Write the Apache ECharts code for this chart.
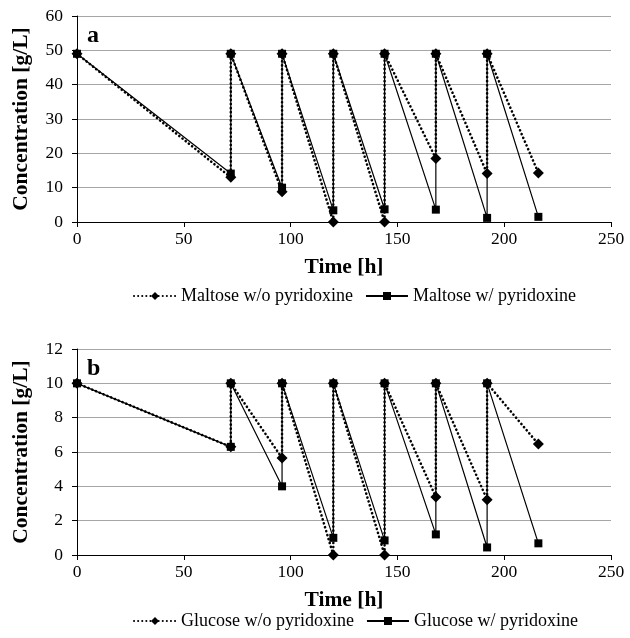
<!DOCTYPE html>
<html><head><meta charset="utf-8">
<script src="https://cdn.jsdelivr.net/npm/echarts@6/dist/echarts.min.js"></script>
<style>html,body{margin:0;padding:0;background:#fff}#c{width:630px;height:638px}</style>
</head><body><div id="c"></div>
<script>
var times = [0, 72, 72, 96, 96, 120, 120, 144, 144, 168, 168, 192, 192, 216];
var maltoseWo = [49, 13, 49, 8.8, 49, 0, 49, 0, 49, 18.5, 49, 14.1, 49, 14.3];
var maltoseW  = [49, 14.1, 49, 10, 49, 3.4, 49, 3.7, 49, 3.6, 49, 1.2, 49, 1.5];
var glucoseWo = [10, 6.3, 10, 5.65, 10, 0, 10, 0, 10, 3.38, 10, 3.22, 10, 6.46];
var glucoseW  = [10, 6.3, 10, 4.0, 10, 1.0, 10, 0.85, 10, 1.2, 10, 0.44, 10, 0.68];
var xTicks = [0, 50, 100, 150, 200, 250];
var yTicksA = [0, 10, 20, 30, 40, 50, 60];
var yTicksB = [0, 2, 4, 6, 8, 10, 12];

function pairs(v){ return times.map(function(t,i){ return [t, v[i]]; }); }

var FONT = "'Liberation Serif','Times New Roman',serif";
var chart = echarts.init(document.getElementById('c'), null, {renderer:'canvas'});

function xAxis(idx){
  return {
    type:'value', gridIndex:idx, min:xTicks[0], max:xTicks[xTicks.length-1], interval:50,
    name:'Time [h]', nameLocation:'middle', nameGap:34,
    nameTextStyle:{fontFamily:FONT, fontWeight:'bold', fontSize:21.5, color:'#000'},
    axisLine:{show:true, onZero:false, lineStyle:{color:'#000', width:1}},
    axisTick:{show:true, length:5, lineStyle:{color:'#000'}},
    axisLabel:{fontFamily:FONT, fontSize:17.5, color:'#000', margin:8},
    splitLine:{show:false}
  };
}
function yAxis(idx, ticks){
  return {
    type:'value', gridIndex:idx, min:ticks[0], max:ticks[ticks.length-1], interval:ticks[1]-ticks[0],
    name:'Concentration [g/L]', nameLocation:'middle', nameGap:45,
    nameTextStyle:{fontFamily:FONT, fontWeight:'bold', fontSize:21.5, color:'#000'},
    axisLine:{show:true, lineStyle:{color:'#000', width:1}},
    axisTick:{show:true, length:5, lineStyle:{color:'#000'}},
    axisLabel:{fontFamily:FONT, fontSize:17.5, color:'#000', margin:14},
    splitLine:{show:true, lineStyle:{color:'#a6a6a6', width:1}}
  };
}
function dottedSeries(name, data, idx){
  return {
    name:name, type:'line', xAxisIndex:idx, yAxisIndex:idx, data:data,
    symbol:'diamond', symbolSize:11, showSymbol:true,
    lineStyle:{color:'#000', width:2.6, type:[0.1, 4], cap:'round'},
    itemStyle:{color:'#000'}, animation:false, z:3
  };
}
function solidSeries(name, data, idx){
  return {
    name:name, type:'line', xAxisIndex:idx, yAxisIndex:idx, data:data,
    symbol:'rect', symbolSize:8, showSymbol:true,
    lineStyle:{color:'#000', width:1.2, type:'solid'},
    itemStyle:{color:'#000'}, animation:false, z:2
  };
}
function legend(names, top){
  return {data:names, top:top, left:128, itemWidth:42, itemHeight:10, itemGap:12,
    textStyle:{fontFamily:FONT, fontSize:18, color:'#000'}};
}

var option = {
  backgroundColor:'#fff',
  animation:false,
  grid:[
    {left:77, right:19, top:16, height:206},
    {left:77, right:19, top:349, height:206}
  ],
  xAxis:[xAxis(0), xAxis(1)],
  yAxis:[yAxis(0, yTicksA), yAxis(1, yTicksB)],
  legend:[
    legend(['Maltose w/o pyridoxine','Maltose w/ pyridoxine'], 282),
    legend(['Glucose w/o pyridoxine','Glucose w/ pyridoxine'], 607)
  ],
  graphic:[
    {type:'text', left:87, top:24, style:{text:'a', font:'bold 24px ' + FONT, fill:'#000'}},
    {type:'text', left:87, top:357, style:{text:'b', font:'bold 24px ' + FONT, fill:'#000'}}
  ],
  series:[
    solidSeries('Maltose w/ pyridoxine', pairs(maltoseW), 0),
    dottedSeries('Maltose w/o pyridoxine', pairs(maltoseWo), 0),
    solidSeries('Glucose w/ pyridoxine', pairs(glucoseW), 1),
    dottedSeries('Glucose w/o pyridoxine', pairs(glucoseWo), 1)
  ]
};
chart.setOption(option);
</script></body></html>
